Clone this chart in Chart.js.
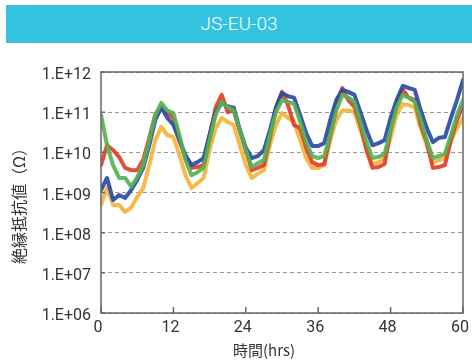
<!DOCTYPE html>
<html>
<head>
<meta charset="utf-8">
<script src="https://cdn.jsdelivr.net/npm/chart.js@4"></script>
<style>
  html, body { margin: 0; padding: 0; background: #fff; }
  #wrap { position: relative; width: 472px; height: 360px; }
  #bar {
    position: absolute; left: 6px; top: 5px; width: 466px; height: 38px;
    background: #33c2df; color: #fff; font: 300 19px Roboto, sans-serif;
    line-height: 38px; text-align: center; z-index: 2;
  }
  #c { position: absolute; left: 0; top: 0; }
</style>
</head>
<body>
<div id="wrap">
  <div id="bar">JS-EU-03</div>
  <canvas id="c" width="472" height="360"></canvas>
</div>
<script>
const hours = [0,1,2,3,4,5,6,7,8,9,10,11,12,13,14,15,16,17,18,19,20,21,22,23,24,25,26,27,28,29,30,
  31,32,33,34,35,36,37,38,39,40,41,42,43,44,45,46,47,48,49,50,51,52,53,54,55,56,57,58,59,60];

const blue = [1.15e9,2.3e9,6.5e8,8.7e8,7.3e8,1.15e9,2.05e9,4.1e9,1.5e10,6.4e10,
  1.3e11,7.2e10,4.8e10,2.0e10,8.6e9,4.8e9,5.7e9,7.2e9,2.7e10,1.0e11,
  1.7e11,1.4e11,1.3e11,3.6e10,1.3e10,7.2e9,8.1e9,1.14e10,3.6e10,1.3e11,
  3.0e11,2.5e11,2.3e11,8.5e10,3.0e10,1.44e10,1.44e10,1.7e10,6.4e10,2.0e11,
  3.6e11,3.2e11,2.7e11,1.0e11,3.6e10,1.5e10,1.7e10,2.0e10,7.2e10,2.0e11,
  4.5e11,4.0e11,3.6e11,1.1e11,4.0e10,1.8e10,2.3e10,2.4e10,7.2e10,2.0e11,6.3e11];

const red = [4.8e9,1.5e10,1.14e10,7.7e9,4.1e9,3.6e9,3.6e9,6.4e9,2.3e10,8.5e10,
  1.35e11,9.5e10,7.2e10,2.0e10,7.2e9,4.1e9,4.3e9,4.8e9,2.7e10,1.3e11,
  2.7e11,1.0e11,1.1e11,3.6e10,1.14e10,3.6e9,4.1e9,4.8e9,2.3e10,1.3e11,
  3.2e11,1.5e11,4.8e10,4.0e10,1.3e10,5.7e9,4.8e9,5.1e9,2.7e10,1.5e11,
  4.0e11,2.0e11,1.35e11,4.8e10,1.14e10,4.1e9,4.3e9,5.1e9,3.6e10,1.7e11,
  3.6e11,2.3e11,2.0e11,4.8e10,1.8e10,4.1e9,4.3e9,4.8e9,2.0e10,6.4e10,1.5e11];

const green = [8.5e10,1.5e10,4.8e9,2.3e9,2.3e9,1.4e9,2.4e9,4.8e9,2.0e10,8.5e10,
  1.7e11,1.1e11,9.5e10,2.7e10,6.4e9,2.7e9,3.2e9,4.1e9,2.0e10,8.5e10,
  1.8e11,1.35e11,1.1e11,3.6e10,1.14e10,4.3e9,5.4e9,6.4e9,2.7e10,1.0e11,
  2.0e11,1.8e11,1.6e11,5.7e10,1.8e10,8.1e9,7.2e9,8.1e9,2.7e10,1.1e11,
  2.7e11,2.3e11,1.8e11,5.7e10,1.8e10,7.2e9,7.7e9,9.1e9,3.6e10,1.3e11,
  2.7e11,2.3e11,1.8e11,6.4e10,2.0e10,7.2e9,8.1e9,9.1e9,2.7e10,8.5e10,2.0e11];

const orange = [4.9e8,1.3e9,4.9e8,4.9e8,3.3e8,4.2e8,7.7e8,1.3e9,4.8e9,2.0e10,
  4.3e10,2.7e10,2.4e10,8.6e9,2.7e9,1.3e9,1.7e9,2.3e9,1.14e10,4.0e10,
  7.2e10,5.7e10,4.8e10,1.5e10,4.8e9,2.3e9,2.9e9,3.6e9,1.5e10,4.8e10,
  9.5e10,7.2e10,5.7e10,2.0e10,7.2e9,4.1e9,4.1e9,4.8e9,2.0e10,6.4e10,
  1.1e11,1.1e11,1.0e11,3.6e10,1.3e10,5.1e9,5.7e9,7.2e9,2.3e10,8.5e10,
  1.6e11,1.5e11,1.3e11,4.0e10,1.44e10,5.7e9,6.4e9,7.2e9,2.0e10,4.0e10,7.2e10];

const yTickValues = [1e6, 1e7, 1e8, 1e9, 1e10, 1e11, 1e12];
const yTickLabels = ['1.E+06', '1.E+07', '1.E+08', '1.E+09', '1.E+10', '1.E+11', '1.E+12'];
const xTitle = '時間(hrs)';
const yTitle = '絶縁抵抗値（Ω）';

function pts(arr) {
    return arr.map((v, i) => ({ x: hours[i], y: v }));
}

function serie(arr, cor) {
    return {
        data: pts(arr),
        borderColor: cor,
        borderWidth: 4,
        pointRadius: 0,
        tension: 0,
        borderJoinStyle: 'round',
        borderCapStyle: 'round'
    };
}

// moldura, marcas internas e títulos
const moldura = {
    id: 'moldura',
    afterDraw(chart) {
        const { ctx, chartArea: a, scales: { x, y } } = chart;
        ctx.save();
        ctx.strokeStyle = '#666';
        ctx.lineWidth = 1.5;
        ctx.strokeRect(a.left, a.top, a.right - a.left, a.bottom - a.top);
        ctx.beginPath();
        x.ticks.forEach(t => {
            const px = x.getPixelForValue(t.value);
            ctx.moveTo(px, a.bottom);
            ctx.lineTo(px, a.bottom - 6);
        });
        y.ticks.forEach(t => {
            const py = y.getPixelForValue(t.value);
            ctx.moveTo(a.left, py);
            ctx.lineTo(a.left + 4, py);
        });
        ctx.stroke();

        ctx.fillStyle = '#333';
        ctx.textAlign = 'center';
        ctx.textBaseline = 'middle';
        ctx.font = '15px "Noto Sans CJK JP"';
        ctx.fillText(xTitle, 264, 350);
        ctx.font = '16px "Noto Sans CJK JP"';
        ctx.translate(19, 202);
        ctx.rotate(-Math.PI / 2);
        ctx.fillText(yTitle, 0, 0);
        ctx.restore();
    }
};

new Chart(document.getElementById('c').getContext('2d'), {
    type: 'line',
    data: {
        datasets: [
            serie(green, 'rgba(88,178,84,0.92)'),
            serie(blue, 'rgba(40,76,166,0.92)'),
            serie(red, 'rgba(226,62,40,0.92)'),
            serie(orange, 'rgba(244,180,56,0.92)')
        ]
    },
    options: {
        responsive: false,
        animation: false,
        layout: { padding: { left: 0, top: 72, right: 9, bottom: 0 } },
        plugins: { legend: { display: false }, tooltip: { enabled: false } },
        scales: {
            x: {
                type: 'linear',
                min: 0,
                max: 60,
                afterFit: s => { s.height = 47; s.paddingLeft = 0; s.paddingRight = 0; },
                grid: { display: false, drawTicks: false },
                border: { display: false },
                ticks: {
                    stepSize: 12,
                    padding: 5,
                    labelOffset: -3,
                    color: '#333',
                    font: { family: 'Roboto', size: 16 }
                }
            },
            y: {
                type: 'logarithmic',
                min: 1e6,
                max: 1e12,
                afterFit: s => { s.width = 101; },
                afterBuildTicks: s => { s.ticks = yTickValues.map(v => ({ value: v })); },
                grid: { color: '#9a9a9a', lineWidth: 1, drawTicks: false },
                border: { display: false, dash: [4, 3] },
                ticks: {
                    padding: 10,
                    labelOffset: 3,
                    autoSkip: false,
                    color: '#333',
                    font: { family: 'Roboto', size: 16 },
                    callback: v => yTickLabels[yTickValues.indexOf(v)]
                }
            }
        }
    },
    plugins: [moldura]
});
</script>
</body>
</html>
